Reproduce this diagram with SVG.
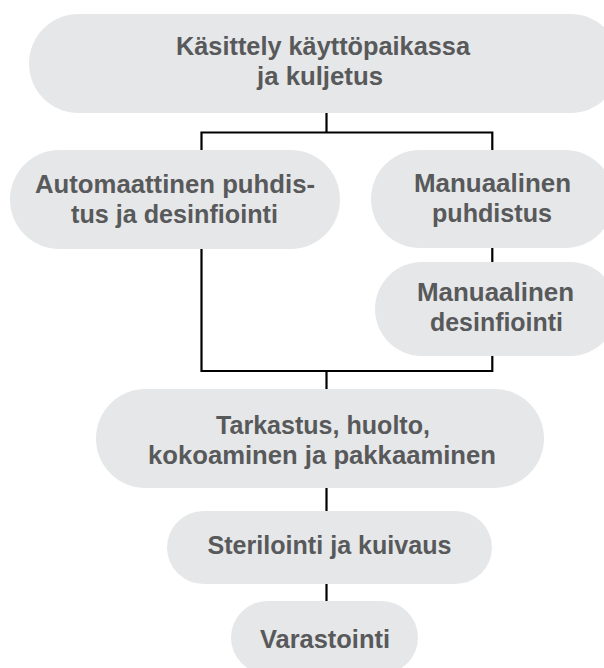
<svg xmlns="http://www.w3.org/2000/svg" width="604" height="668" viewBox="0 0 604 668">
<style>
.box{fill:#e6e7e8}
.t{font-family:"Liberation Sans",Arial,sans-serif;font-weight:700;font-size:25.5px;fill:#58595b;text-anchor:middle}
.c{fill:none;stroke:#000;stroke-width:2.2}
</style>
<rect width="604" height="668" fill="#fff"/>
<g id="connectors">
<path class="c" d="M326.5 113V132.5M201.5 150V132.5H492.3V150"/>
<path class="c" d="M492.3 248V262"/>
<path class="c" d="M201.5 249V371H492.3V356M326.5 371V389"/>
<path class="c" d="M326.5 488V511"/>
<path class="c" d="M326.5 584V601"/>
</g>
<g id="n1">
<rect class="box" x="29" y="14" width="591" height="99" rx="49.5"/>
<text class="t" x="323" y="55" textLength="294" lengthAdjust="spacingAndGlyphs">Käsittely käyttöpaikassa</text>
<text class="t" x="320" y="84.5" textLength="126" lengthAdjust="spacingAndGlyphs">ja kuljetus</text>
</g>
<g id="n2">
<rect class="box" x="10" y="150" width="330" height="99" rx="49.5"/>
<text class="t" x="175" y="193" textLength="280" lengthAdjust="spacingAndGlyphs">Automaattinen puhdis-</text>
<text class="t" x="174.5" y="222.5" textLength="207" lengthAdjust="spacingAndGlyphs">tus ja desinfiointi</text>
</g>
<g id="n3">
<rect class="box" x="371" y="150" width="243" height="98" rx="49"/>
<text class="t" x="492.5" y="192" textLength="157" lengthAdjust="spacingAndGlyphs">Manuaalinen</text>
<text class="t" x="492" y="221.5" textLength="120" lengthAdjust="spacingAndGlyphs">puhdistus</text>
</g>
<g id="n4">
<rect class="box" x="375" y="262" width="242" height="94" rx="47"/>
<text class="t" x="495.5" y="301" textLength="157" lengthAdjust="spacingAndGlyphs">Manuaalinen</text>
<text class="t" x="496.5" y="330.5" textLength="133" lengthAdjust="spacingAndGlyphs">desinfiointi</text>
</g>
<g id="n5">
<rect class="box" x="96" y="389" width="448" height="99" rx="49.5"/>
<text class="t" x="323" y="434" textLength="214" lengthAdjust="spacingAndGlyphs">Tarkastus, huolto,</text>
<text class="t" x="322" y="463.5" textLength="348" lengthAdjust="spacingAndGlyphs">kokoaminen ja pakkaaminen</text>
</g>
<g id="n6">
<rect class="box" x="167" y="511" width="325" height="73" rx="36.5"/>
<text class="t" x="329.5" y="553.5" textLength="244" lengthAdjust="spacingAndGlyphs">Sterilointi ja kuivaus</text>
</g>
<g id="n7">
<rect class="box" x="231" y="601" width="187" height="73" rx="36.5"/>
<text class="t" x="325" y="647.5" textLength="130" lengthAdjust="spacingAndGlyphs">Varastointi</text>
</g>
</svg>
